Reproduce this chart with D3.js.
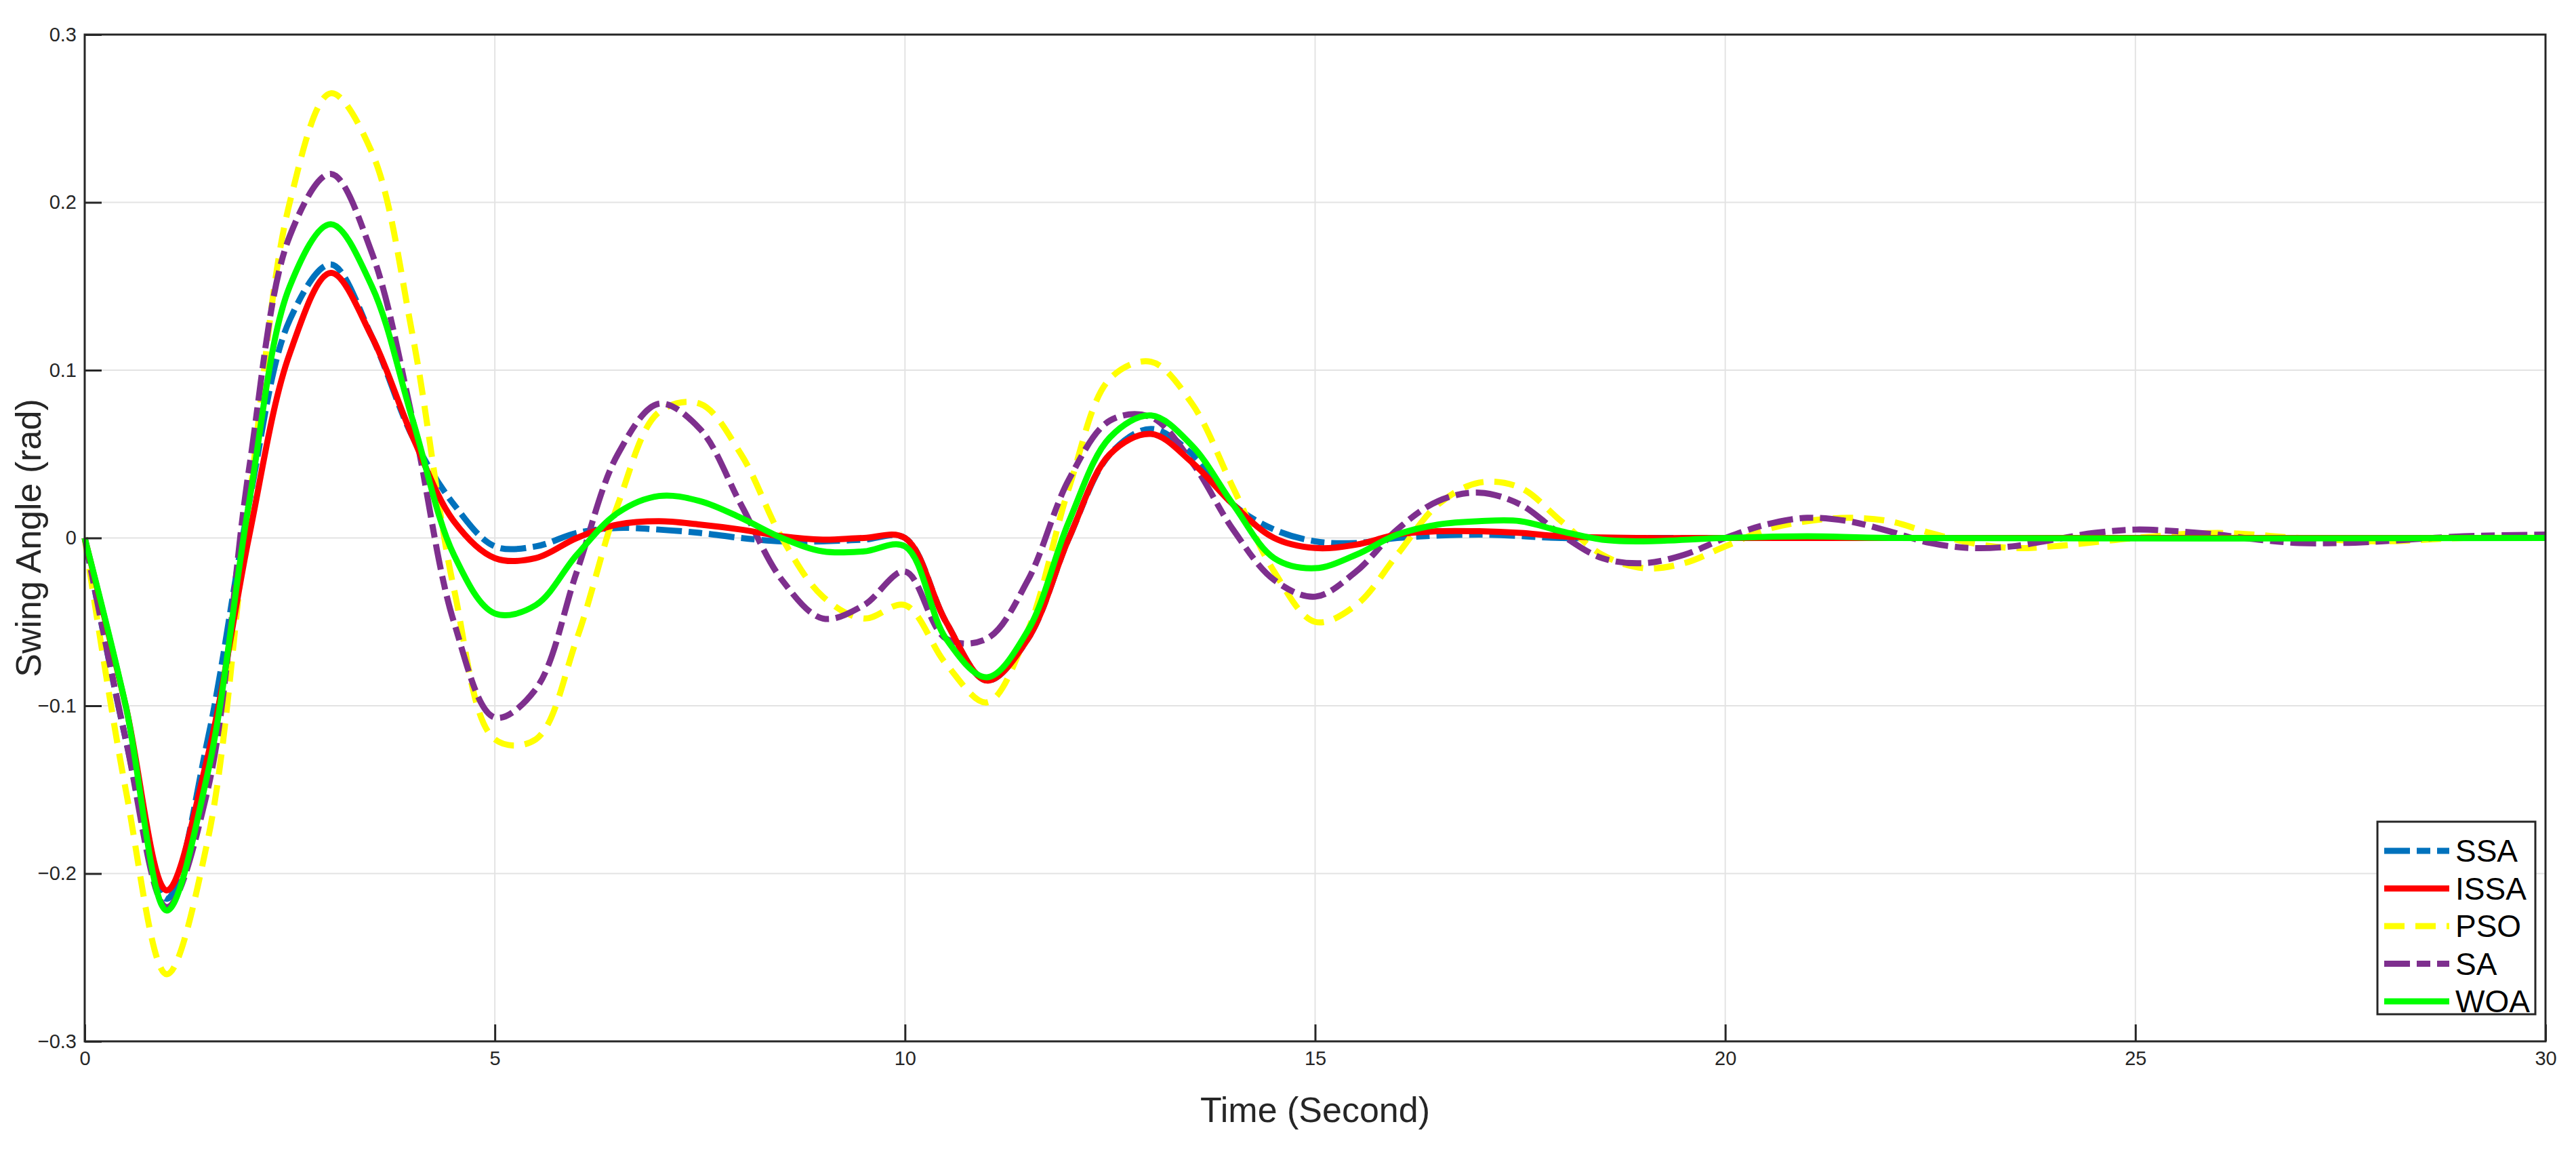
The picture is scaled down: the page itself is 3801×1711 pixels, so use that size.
<!DOCTYPE html>
<html>
<head>
<meta charset="utf-8">
<script src="https://cdn.jsdelivr.net/npm/d3@7"></script>
<style>
body { margin: 0; background: #fff; }
text { font-family: "Liberation Sans", Arial, sans-serif; }
</style>
</head>
<body>
<div id="screen"></div>
<script>
// series data, [time, angle]
var ssa = [[0,0],[0.5,-0.12],[1,-0.215],[1.5,-0.12],[2,0.02],[2.5,0.13],[3,0.163],[3.5,0.12],[4,0.06],[4.5,0.02],[5,-0.005],[5.5,-0.005],[6,0.003],[6.5,0.006],[7,0.005],[7.5,0.003],[8,0],[8.5,-0.002],[9,-0.002],[9.5,-0.001],[10,0],[10.5,-0.05],[11,-0.085],[11.5,-0.06],[12,0],[12.5,0.05],[13,0.065],[13.5,0.05],[14,0.02],[14.5,0.005],[15,-0.002],[15.5,-0.003],[16,0],[17,0.002],[18,0],[19,0],[20,0],[25,0],[30,0]];
var issa = [[0,0],[0.5,-0.1],[1,-0.21],[1.5,-0.13],[2,0],[2.5,0.11],[3,0.158],[3.5,0.12],[4,0.06],[4.5,0.01],[5,-0.012],[5.5,-0.012],[6,0],[6.5,0.008],[7,0.01],[7.5,0.008],[8,0.005],[8.5,0.001],[9,-0.001],[9.5,0],[10,0],[10.5,-0.05],[11,-0.085],[11.5,-0.06],[12,0],[12.5,0.05],[13,0.062],[13.5,0.045],[14,0.02],[14.5,0],[15,-0.006],[15.5,-0.004],[16,0.002],[16.5,0.004],[17,0.004],[17.5,0.003],[18,0.001],[19,0],[20,0],[25,0],[30,0]];
var pso = [[0,0],[0.5,-0.15],[1,-0.26],[1.5,-0.18],[2,0.02],[2.5,0.2],[3,0.265],[3.5,0.23],[4,0.12],[4.5,-0.03],[5,-0.12],[5.5,-0.12],[6,-0.06],[6.5,0.02],[7,0.075],[7.5,0.08],[8,0.05],[8.5,0],[9,-0.035],[9.5,-0.048],[10,-0.04],[10.5,-0.075],[11,-0.098],[11.5,-0.055],[12,0.03],[12.5,0.095],[13,0.105],[13.5,0.08],[14,0.03],[14.5,-0.02],[15,-0.05],[15.5,-0.04],[16,-0.01],[16.5,0.02],[17,0.033],[17.5,0.03],[18,0.01],[18.5,-0.01],[19,-0.018],[19.5,-0.015],[20,-0.005],[20.5,0.005],[21,0.01],[21.5,0.012],[22,0.01],[22.5,0.003],[23,-0.003],[23.5,-0.006],[24,-0.005],[25,0],[26,0.003],[27,0],[28,-0.002],[29,0],[30,0]];
var sa = [[0,0],[0.5,-0.12],[1,-0.22],[1.5,-0.15],[2,0.04],[2.5,0.18],[3,0.217],[3.5,0.17],[4,0.07],[4.5,-0.05],[5,-0.107],[5.5,-0.09],[6,-0.02],[6.5,0.05],[7,0.08],[7.5,0.065],[8,0.02],[8.5,-0.025],[9,-0.048],[9.5,-0.04],[10,-0.02],[10.5,-0.06],[11,-0.06],[11.5,-0.025],[12,0.035],[12.5,0.07],[13,0.072],[13.5,0.045],[14,0.005],[14.5,-0.025],[15,-0.035],[15.5,-0.02],[16,0.005],[16.5,0.022],[17,0.027],[17.5,0.02],[18,0.002],[18.5,-0.012],[19,-0.015],[19.5,-0.01],[20,0],[20.5,0.008],[21,0.012],[21.5,0.01],[22,0.004],[22.5,-0.003],[23,-0.006],[23.5,-0.005],[24,-0.001],[24.5,0.003],[25,0.005],[25.5,0.004],[26,0.002],[26.5,-0.001],[27,-0.003],[27.5,-0.003],[28,-0.002],[29,0.001],[30,0.002]];
var woa = [[0,0],[0.5,-0.1],[1,-0.222],[1.5,-0.14],[2,0.02],[2.5,0.15],[3,0.187],[3.5,0.15],[4,0.07],[4.5,-0.01],[5,-0.045],[5.5,-0.04],[6,-0.01],[6.5,0.015],[7,0.025],[7.5,0.022],[8,0.012],[8.5,0],[9,-0.008],[9.5,-0.008],[10,-0.005],[10.5,-0.06],[11,-0.083],[11.5,-0.055],[12,0.01],[12.5,0.06],[13,0.073],[13.5,0.055],[14,0.02],[14.5,-0.012],[15,-0.018],[15.5,-0.01],[16,0.002],[16.5,0.008],[17,0.01],[17.5,0.01],[18,0.004],[18.5,-0.001],[19,-0.002],[20,0],[21,0.001],[22,0],[30,0]];

var seriesNames = ["SSA", "ISSA", "PSO", "SA", "WOA"];
var seriesData = [ssa, issa, pso, sa, woa];
var xTicks = [0, 5, 10, 15, 20, 25, 30];
var yTicks = [-0.3, -0.2, -0.1, 0, 0.1, 0.2, 0.3];

// drawing order and styles
var colors = ["#0072bd", "#ff0000", "#ffff00", "#7e2f8e", "#00ff00"];
var dashes = ["38,10,20,10", null, "30,16", "38,10,20,10", null];
var drawOrder = [0, 2, 3, 1, 4];

var W = 3801, H = 1711;
var L = 125, R = 3756, T = 51, B = 1536;

var svg = d3.select("#screen").append("svg")
    .attr("width", W).attr("height", H);
svg.append("rect").attr("width", W).attr("height", H).attr("fill", "#fff");

var x = d3.scaleLinear().domain([0, 30]).range([L, R]);
var y = d3.scaleLinear().domain([-0.3, 0.3]).range([B, T]);

//grid
svg.append("g").selectAll("line").data(xTicks.slice(1, -1)).enter().append("line")
    .attr("x1", d => x(d)).attr("x2", d => x(d)).attr("y1", T).attr("y2", B)
    .attr("stroke", "#e3e3e3").attr("stroke-width", 2);
svg.append("g").selectAll("line").data(yTicks.slice(1, -1)).enter().append("line")
    .attr("y1", d => y(d)).attr("y2", d => y(d)).attr("x1", L).attr("x2", R)
    .attr("stroke", "#e3e3e3").attr("stroke-width", 2);

//lines
var line = d3.line().x(d => x(d[0])).y(d => y(d[1])).curve(d3.curveCatmullRom);
drawOrder.forEach(function(i){
    svg.append("path").datum(seriesData[i])
        .attr("d", line)
        .attr("fill", "none")
        .attr("stroke", colors[i])
        .attr("stroke-width", 9)
        .attr("stroke-linejoin", "round")
        .attr("stroke-dasharray", dashes[i]);
});

//axes
var xAxis = svg.append("g").attr("transform", "translate(0," + B + ")")
    .call(d3.axisBottom(x).tickValues(xTicks).tickSize(-25).tickPadding(14).tickFormat(d3.format("d")));
var yAxis = svg.append("g").attr("transform", "translate(" + L + ",0)")
    .call(d3.axisLeft(y).tickValues(yTicks).tickSize(-25).tickPadding(12).tickFormat(d => d === 0 ? "0" : d3.format(".1f")(d)));
[xAxis, yAxis].forEach(function(a){
    a.select(".domain").remove();
    a.selectAll("line").attr("stroke", "#262626").attr("stroke-width", 3);
    a.selectAll("text").attr("font-size", 29).attr("fill", "#262626");
});
svg.append("rect").attr("x", L).attr("y", T).attr("width", R - L).attr("height", B - T)
    .attr("fill", "none").attr("stroke", "#262626").attr("stroke-width", 3);

//axis labels
svg.append("text").attr("x", (L + R) / 2).attr("y", 1655).attr("text-anchor", "middle")
    .attr("font-size", 52).attr("fill", "#262626").text("Time (Second)");
svg.append("text").attr("transform", "translate(60," + ((T + B) / 2) + ") rotate(-90)")
    .attr("text-anchor", "middle").attr("font-size", 52).attr("fill", "#262626").text("Swing Angle (rad)");

//legend
var lg = svg.append("g").attr("transform", "translate(3508,1212)");
lg.append("rect").attr("width", 233).attr("height", 284).attr("fill", "#fff")
    .attr("stroke", "#262626").attr("stroke-width", 3);
var items = lg.selectAll("g.item").data(seriesNames).enter().append("g")
    .attr("transform", (d, i) => "translate(0," + (43 + i * 55.5) + ")");
items.append("line").attr("x1", 10).attr("x2", 106)
    .attr("stroke", (d, i) => colors[i]).attr("stroke-width", 9)
    .attr("stroke-dasharray", (d, i) => dashes[i]);
items.append("text").attr("x", 115).attr("y", 16).attr("font-size", 46).attr("fill", "#000").text(d => d);
</script>
</body>
</html>
